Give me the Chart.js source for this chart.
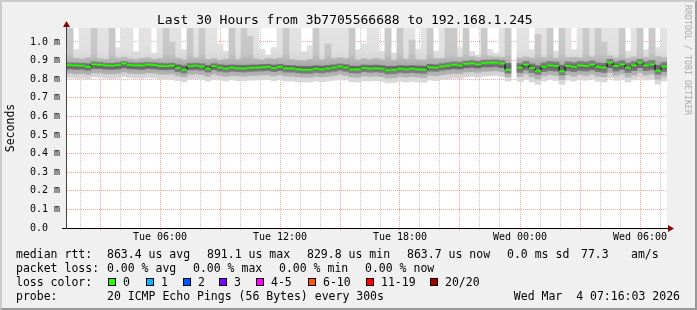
<!DOCTYPE html>
<html><head><meta charset="utf-8">
<script src="https://cdn.jsdelivr.net/npm/chart.js@4.4.1/dist/chart.umd.min.js"></script>
<style>
html,body{margin:0;padding:0;background:#f0f0f0;}
#wrap{position:relative;width:697px;height:310px;background:#f0f0f0;overflow:hidden;}
#c{position:absolute;left:0;top:0;}
.t{position:absolute;font-family:"DejaVu Sans Mono",monospace;white-space:pre;color:#000;}
.lg{font-size:11.5px;line-height:11.5px;}
.box{position:absolute;width:8px;height:8px;box-sizing:border-box;border:1px solid #000;}
#frame{position:absolute;left:0;top:0;width:697px;height:310px;box-sizing:border-box;border-style:solid;border-width:2px;border-color:#cbcbcb #999999 #999999 #cbcbcb;pointer-events:none;}
#wm{position:absolute;left:692px;top:5px;font-family:"DejaVu Sans Mono",monospace;font-size:8.3px;line-height:9px;color:#aaaaaa;white-space:pre;transform:rotate(90deg);transform-origin:0 0;}
</style></head>
<body>
<div id="wrap">
<canvas id="c" width="697" height="310"></canvas>
<div class="t" style="left:157px;top:13px;font-size:13px;line-height:13px;">Last 30 Hours from 3b7705566688 to 192.168.1.245</div>
<div id="wm">RRDTOOL / TOBI OETIKER</div>

<div class="t lg" style="left:16px;top:249px;">median rtt:</div>
<div class="t lg" style="left:107px;top:249px;">863.4 us avg</div>
<div class="t lg" style="left:207px;top:249px;">891.1 us max</div>
<div class="t lg" style="left:307px;top:249px;">829.8 us min</div>
<div class="t lg" style="left:407px;top:249px;">863.7 us now</div>
<div class="t lg" style="left:507px;top:249px;">0.0 ms sd</div>
<div class="t lg" style="left:581px;top:249px;">77.3</div>
<div class="t lg" style="left:631px;top:249px;">am/s</div>

<div class="t lg" style="left:16px;top:263px;">packet loss:</div>
<div class="t lg" style="left:107px;top:263px;">0.00 % avg</div>
<div class="t lg" style="left:193px;top:263px;">0.00 % max</div>
<div class="t lg" style="left:279px;top:263px;">0.00 % min</div>
<div class="t lg" style="left:365px;top:263px;">0.00 % now</div>

<div class="t lg" style="left:16px;top:277px;">loss color:</div>
<div id="lossLegend"></div>

<div class="t lg" style="left:16px;top:291px;">probe:</div>
<div class="t lg" style="left:107px;top:291px;">20 ICMP Echo Pings (56 Bytes) every 300s</div>
<div class="t lg" style="right:17px;top:291px;">Wed Mar  4 07:16:03 2026</div>
<div id="frame"></div>
</div>
<script>
// ---- data (values in microseconds) ----
const startHour = 1.35;   // hours after Tue 00:00 at left edge
const stepHours = 0.3;    // width of one sample column

const medianRtt = [
875,874,872,866,880,877,874,872,876,884,
876,874,873,878,876,871,870,872,860,850,
870,872,868,856,870,862,857,862,859,858,
861,862,864,866,860,866,858,858,853,850,
850,856,853,858,862,868,862,853,852,860,
857,859,856,848,850,856,853,856,853,851,
864,862,868,872,877,874,882,885,880,887,
888,890,884,850,null,862,878,860,845,867,
874,871,842,871,866,874,871,878,866,862,
889,871,880,862,874,890,874,880,845,868];

const pingMax = [
1100,960,1100,1100,1100,1100,1100,1100,970,1100,
1100,950,1100,1100,940,1100,1100,1100,1100,960,
1100,1100,1100,1100,1100,990,950,1100,1100,1100,
1100,1100,960,930,970,1100,1100,1100,1100,950,
980,1100,1100,1100,1100,1100,1100,1100,960,990,
1100,1100,950,1100,940,1100,1100,1100,960,1100,
1100,950,1100,1100,1100,970,1100,950,930,1100,
960,940,1100,1100,null,1100,1100,960,1100,1100,
1100,950,1100,1100,960,1100,1100,1100,1100,1100,
1100,1100,1100,950,1100,1100,960,1100,970,1100];

const pingHigh = [
1100,912,908,915,1100,910,906,1100,914,918,
909,905,912,916,907,911,1100,1000,913,904,
1100,915,1100,905,910,902,908,1100,906,1100,
1030,909,903,911,907,914,1100,905,902,900,
906,1100,904,990,910,916,912,1100,903,910,
906,912,904,1100,902,1100,907,1010,905,903,
1100,910,912,1100,1100,918,1100,922,915,1100,
925,920,918,1100,null,914,920,912,1040,916,
1100,912,1100,916,918,915,1100,920,1100,1000,
925,915,1100,912,920,1100,918,1100,922,915];

const pingUpper = [
888,887,886,884,893,890,886,885,889,895,
889,887,888,890,889,886,884,886,878,872,
884,886,883,874,884,878,874,877,875,874,
876,877,879,880,876,880,874,873,870,868,
868,872,870,874,877,882,878,870,869,876,
874,876,873,868,869,873,871,873,871,870,
880,878,884,888,893,891,897,900,896,902,
903,904,900,885,null,884,896,882,872,888,
895,892,875,893,888,895,892,898,888,885,
906,892,900,886,895,906,894,900,875,890];

const pingLower = [
855,852,853,848,858,857,853,852,855,862,
856,854,852,857,855,851,850,852,840,832,
850,852,848,838,850,842,838,842,840,838,
841,843,844,846,840,846,838,838,834,831,
831,836,833,838,842,848,842,834,832,840,
837,839,836,828,830,836,833,836,833,831,
843,842,848,852,856,854,861,864,860,866,
866,868,862,832,null,836,850,835,825,840,
846,843,822,845,840,846,843,850,840,836,
862,843,852,836,846,862,846,852,826,840];

const pingLow = [
832,828,830,826,835,833,829,828,831,838,
832,830,829,834,832,827,826,828,818,812,
826,828,824,815,826,820,816,820,818,816,
819,820,822,824,818,824,816,816,812,810,
810,815,812,816,820,826,820,812,810,818,
815,817,814,806,808,814,811,814,811,809,
820,818,824,828,832,830,838,840,836,842,
843,845,840,812,null,815,828,812,800,818,
824,820,798,822,816,824,820,828,816,812,
836,820,828,812,822,836,822,828,800,816];

const pingMin = [
808,804,806,800,812,810,805,803,806,814,
808,806,805,810,808,803,800,802,792,786,
800,803,798,790,800,795,790,796,792,790,
794,795,797,799,792,798,790,790,786,784,
784,790,786,790,794,800,795,786,784,792,
790,792,788,780,782,788,785,788,785,783,
795,792,798,802,806,804,812,815,810,816,
818,820,814,790,null,788,800,785,772,790,
798,792,772,795,790,798,794,800,788,785,
808,794,800,785,796,808,795,800,774,790];

const yTickValues = [0,100,200,300,400,500,600,700,800,900,1000];
const yTickLabels = ['0.0  ','0.1 m','0.2 m','0.3 m','0.4 m','0.5 m','0.6 m','0.7 m','0.8 m','0.9 m','1.0 m'];
const xTickHours  = [6,12,18,24,30];
const xTickLabels = ['Tue 06:00','Tue 12:00','Tue 18:00','Wed 00:00','Wed 06:00'];

const lossLabels = ['0','1','2','3','4-5','6-10','11-19','20/20'];
const lossColors = ['#26ff00','#00b8ff','#0059ff','#7e00ff','#ff00ff','#ff5500','#ff0000','#a10000'];
const lossBoxX   = [108,146,183,219,256,308,366,430];

// ---- legend for loss colours ----
const ll = document.getElementById('lossLegend');
lossLabels.forEach((lab, i) => {
  const b = document.createElement('div');
  b.className = 'box';
  b.style.left = lossBoxX[i] + 'px'; b.style.top = '278px'; b.style.background = lossColors[i];
  ll.appendChild(b);
  const t = document.createElement('div');
  t.className = 't lg';
  t.style.left = (lossBoxX[i] + 15) + 'px'; t.style.top = '277px';
  t.textContent = lab;
  ll.appendChild(t);
});

// ---- chart ----
const xs = medianRtt.map((_, i) => startHour + stepHours * i + stepHours / 2);
const band = (a, b) => xs.map((x, i) => (a[i] == null ? {x, y: null} : {x, y: [a[i], b[i]]}));
const medLine = xs.map((x, i) => ({x, y: medianRtt[i]}));
const medBar = xs.map((x, i) => (medianRtt[i] == null ? {x, y: null} : {x, y: [medianRtt[i] - 5, medianRtt[i] + 5]}));

const RED = 'rgba(240,0,0,0.376)';
const GREY = 'rgba(143,143,143,0.5)';
const MONO = 'DejaVu Sans Mono';

// vertical shading of the smoke layers (style only)
function vgrad(stops) {
  return (ctx) => {
    const chart = ctx.chart, a = chart.chartArea;
    if (!a) return stops[0][1];
    const ys = chart.scales.y;
    const g = chart.ctx.createLinearGradient(0, a.bottom, 0, a.top);
    stops.forEach(([v, c]) => {
      const f = (ys.getPixelForValue(v) - a.bottom) / (a.top - a.bottom);
      g.addColorStop(Math.min(1, Math.max(0, f)), c);
    });
    return g;
  };
}

const axisPlugin = {
  id: 'rrdAxes',
  beforeDraw(chart) {
    const c = chart.ctx, a = chart.chartArea;
    c.save();
    c.fillStyle = '#ffffff';
    c.fillRect(a.left, a.top, a.right - a.left, a.bottom - a.top);
    c.restore();
  },
  afterDraw(chart) {
    const c = chart.ctx, a = chart.chartArea;
    c.save();
    c.fillStyle = '#000';
    c.fillRect(62, a.bottom, a.right + 2 - 62, 1);
    c.fillStyle = '#444';
    c.fillRect(a.left - 1, a.top - 2, 1, a.bottom - a.top + 3);
    c.fillStyle = '#8b0000';
    c.beginPath();
    c.moveTo(a.left - 0.5, a.top - 7); c.lineTo(a.left - 4, a.top - 1); c.lineTo(a.left + 3, a.top - 1);
    c.closePath(); c.fill();
    c.beginPath();
    c.moveTo(a.right + 7, a.bottom + 0.5); c.lineTo(a.right + 1, a.bottom - 3); c.lineTo(a.right + 1, a.bottom + 4);
    c.closePath(); c.fill();
    c.restore();
  }
};

new Chart(document.getElementById('c'), {
  type: 'bar',
  data: {
    datasets: [
      {label: 'smoke outer', data: band(pingMin, pingMax), order: 6,
       backgroundColor: vgrad([[0,'#dadada'],[800,'#d8d8d8'],[860,'#cdcdcd'],[910,'#d6d6d6'],[960,'#e0e0e0'],[1075,'#e3e3e3']])},
      {label: 'smoke middle', data: band(pingLow, pingHigh), order: 5,
       backgroundColor: vgrad([[0,'#b8b8b8'],[830,'#b2b2b2'],[865,'#a4a4a4'],[905,'#b6b6b6'],[940,'#c6c6c6'],[1075,'#cacaca']])},
      {label: 'smoke inner', data: band(pingLower, pingUpper), order: 4,
       backgroundColor: vgrad([[0,'#8a8a8a'],[845,'#7c7c7c'],[865,'#666666'],[885,'#7c7c7c'],[1075,'#8a8a8a']])},
      {type: 'line', label: 'median', data: medLine, borderColor: '#000', borderWidth: 1,
       stepped: 'middle', pointRadius: 0, fill: false, order: 3},
      {label: 'median (loss 0)', data: medBar, backgroundColor: '#26ff00', inflateAmount: 0, order: 2}
    ]
  },
  options: {
    responsive: false,
    animation: false,
    events: [],
    layout: {padding: {left: 0, right: 30, top: 28, bottom: 0}},
    datasets: {bar: {barPercentage: 1, categoryPercentage: 1, grouped: false, borderWidth: 0}},
    plugins: {legend: {display: false}, tooltip: {enabled: false}, title: {display: false}},
    scales: {
      x: {
        type: 'linear', min: startHour, max: startHour + 30, offset: false, z: 1,
        afterBuildTicks: (s) => { const t = []; for (let h = 2; h <= 31; h++) t.push({value: h}); s.ticks = t; },
        ticks: {
          autoSkip: false, maxRotation: 0, minRotation: 0, padding: 1, color: '#000',
          font: {family: MONO, size: 10},
          callback: (v) => { const k = xTickHours.indexOf(v); return k < 0 ? '' : xTickLabels[k]; }
        },
        grid: {
          offset: false,
          color: (c) => (c.tick && c.tick.value % 3 === 0 ? RED : GREY),
          tickColor: (c) => (c.tick && c.tick.value % 3 === 0 ? RED : GREY),
          lineWidth: 1, drawTicks: true, tickLength: 2
        },
        border: {display: false, dash: [1, 1]},
        afterFit: (s) => { s.height = 82; }
      },
      y: {
        min: 0, max: 1075, z: 1,
        afterBuildTicks: (s) => { s.ticks = yTickValues.map(v => ({value: v})); },
        ticks: {padding: 7, color: '#000', font: {family: MONO, size: 10}, callback: (v, i) => yTickLabels[i]},
        grid: {offset: false, color: (c) => (c.tick && c.tick.value === 0 ? 'rgba(0,0,0,0)' : RED), drawTicks: false, lineWidth: 1},
        border: {display: false, dash: [1, 1]},
        title: {display: true, text: 'Seconds', color: '#000', font: {family: MONO, size: 11.5}, padding: {top: 4, bottom: 0}},
        afterFit: (s) => { s.width = 67; }
      }
    }
  },
  plugins: [axisPlugin]
});
</script>
</body></html>
